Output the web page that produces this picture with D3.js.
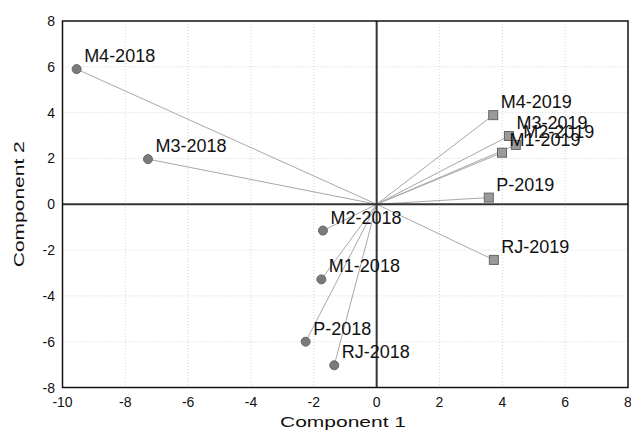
<!DOCTYPE html>
<html>
<head>
<meta charset="utf-8">
<script src="https://cdn.jsdelivr.net/npm/d3@7"></script>
<style>
  html, body { margin: 0; padding: 0; background: #fff; }
  svg { display: block; }
</style>
</head>
<body>
<svg id="chart" width="631" height="430"></svg>
<script>
// --- data ---
const labels2018 = ["M4-2018", "M3-2018", "M2-2018", "M1-2018", "P-2018", "RJ-2018"];
const x2018 = [-9.55, -7.28, -1.71, -1.76, -2.26, -1.35];
const y2018 = [5.9, 1.97, -1.15, -3.28, -6.0, -7.03];

const labels2019 = ["M4-2019", "M3-2019", "M2-2019", "M1-2019", "P-2019", "RJ-2019"];
const x2019 = [3.71, 4.21, 4.43, 3.99, 3.57, 3.73];
const y2019 = [3.89, 2.98, 2.59, 2.25, 0.29, -2.43];

const xTicks = [-10, -8, -6, -4, -2, 0, 2, 4, 6, 8];
const yTicks = [-8, -6, -4, -2, 0, 2, 4, 6, 8];

const svg = d3.select("#chart");
const pLeft = 62.5, pRight = 628, pTop = 21, pBottom = 387.5;

const x = d3.scaleLinear().domain([-10, 8]).range([pLeft, pRight]);
const y = d3.scaleLinear().domain([-8, 8]).range([pBottom, pTop]);

const pts2018 = labels2018.map((l, i) => ({ label: l, x: x2018[i], y: y2018[i] }));
const pts2019 = labels2019.map((l, i) => ({ label: l, x: x2019[i], y: y2019[i] }));
const all = pts2018.concat(pts2019);

// grid
svg.append("g").selectAll("line")
    .data(xTicks.filter(d => d > -10 && d < 8 && d !== 0))
    .enter().append("line")
    .attr("x1", d => x(d)).attr("x2", d => x(d))
    .attr("y1", pTop).attr("y2", pBottom)
    .attr("stroke", "#d4d4d4").attr("stroke-dasharray", "1,2");

svg.append("g").selectAll("line")
    .data(yTicks.filter(d => d > -8 && d < 8 && d !== 0))
    .enter().append("line")
    .attr("x1", pLeft).attr("x2", pRight)
    .attr("y1", d => y(d)).attr("y2", d => y(d))
    .attr("stroke", "#d4d4d4").attr("stroke-dasharray", "1,2");

// rays from origin
svg.append("g").selectAll("line")
    .data(all)
    .enter().append("line")
    .attr("x1", x(0)).attr("y1", y(0))
    .attr("x2", d => x(d.x)).attr("y2", d => y(d.y))
    .attr("stroke", "#a8a8a8").attr("stroke-width", 1);

// zero lines
svg.append("line")
    .attr("x1", pLeft).attr("x2", pRight).attr("y1", y(0)).attr("y2", y(0))
    .attr("stroke", "#333").attr("stroke-width", 2);
svg.append("line")
    .attr("x1", x(0)).attr("x2", x(0)).attr("y1", pTop).attr("y2", pBottom)
    .attr("stroke", "#333").attr("stroke-width", 2);

// frame
svg.append("rect")
    .attr("x", pLeft).attr("y", pTop)
    .attr("width", pRight - pLeft).attr("height", pBottom - pTop)
    .attr("fill", "none").attr("stroke", "#111").attr("stroke-width", 1.5);

// markers
svg.append("g").selectAll("circle")
    .data(pts2018)
    .enter().append("circle")
    .attr("cx", d => x(d.x)).attr("cy", d => y(d.y))
    .attr("r", 4.5)
    .attr("fill", "#7a7a7a").attr("stroke", "#666");

svg.append("g").selectAll("rect")
    .data(pts2019)
    .enter().append("rect")
    .attr("x", d => x(d.x) - 4.5).attr("y", d => y(d.y) - 4.5)
    .attr("width", 9).attr("height", 9)
    .attr("fill", "#9a9a9a").attr("stroke", "#666");

// point labels
svg.append("g").selectAll("text")
    .data(all)
    .enter().append("text")
    .attr("x", d => x(d.x) + 7.5)
    .attr("y", d => y(d.y) - 7)
    .style("font", "18px 'Liberation Sans', Arial, sans-serif")
    .attr("fill", "#111")
    .text(d => d.label);

// tick labels
svg.append("g").selectAll("text")
    .data(xTicks)
    .enter().append("text")
    .attr("x", d => x(d)).attr("y", 407)
    .attr("text-anchor", "middle")
    .style("font", "14px 'Liberation Sans', Arial, sans-serif")
    .attr("fill", "#111")
    .text(d => d);

svg.append("g").selectAll("text")
    .data(yTicks)
    .enter().append("text")
    .attr("x", 55).attr("y", d => y(d) + 5)
    .attr("text-anchor", "end")
    .style("font", "14px 'Liberation Sans', Arial, sans-serif")
    .attr("fill", "#111")
    .text(d => d);

// axis titles
svg.append("text")
    .attr("x", 280).attr("y", 426.5)
    .attr("textLength", 126).attr("lengthAdjust", "spacingAndGlyphs")
    .style("font", "15px 'Liberation Sans', Arial, sans-serif")
    .attr("fill", "#111")
    .text("Component 1");

svg.append("text")
    .attr("transform", `translate(24, ${(pTop + pBottom) / 2}) rotate(-90)`)
    .attr("text-anchor", "middle")
    .attr("textLength", 126).attr("lengthAdjust", "spacingAndGlyphs")
    .style("font", "15px 'Liberation Sans', Arial, sans-serif")
    .attr("fill", "#111")
    .text("Component 2");
</script>
</body>
</html>
